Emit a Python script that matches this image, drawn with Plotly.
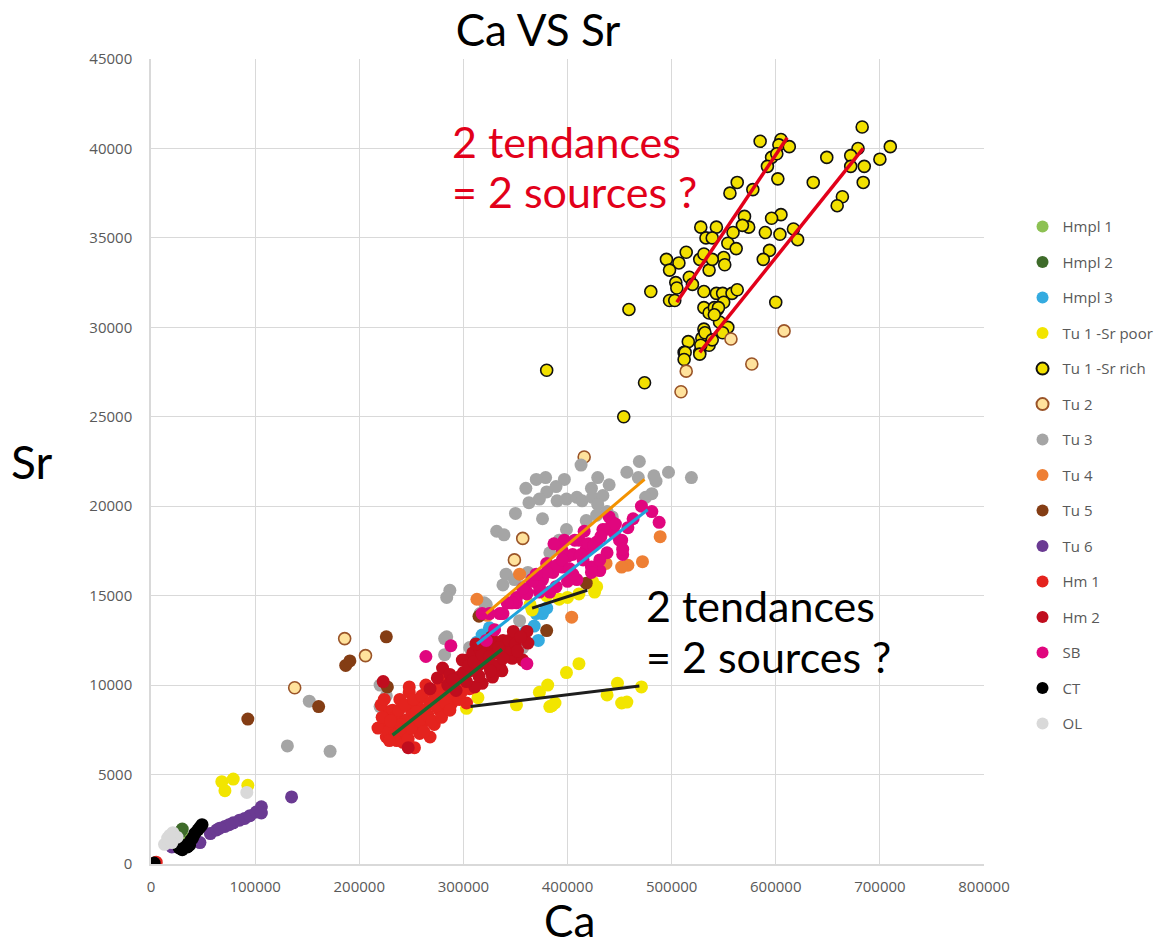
import plotly.graph_objects as go

# ---- measured points (Ca, Sr) per group ----
hmpl1 = [(31000, 1500)]
hmpl2 = [(30000, 1950), (28000, 1800)]
hmpl3 = [(376000, 14000), (368000, 13300), (313000, 12400), (318000, 12800), (370000, 14000),
         (380000, 14300), (360000, 13000), (372000, 12500), (325000, 13200)]
tu1_poor = [(303000, 8700), (314000, 9300), (351000, 8900), (373000, 9600), (381000, 10000),
            (383000, 8800), (388000, 9000), (399000, 10700), (411000, 11200), (448000, 10100),
            (438000, 9450), (452000, 9000), (457000, 9050), (471000, 9900), (364000, 14500),
            (380000, 15000), (392000, 14800), (400000, 14900), (411000, 15100), (424000, 15800),
            (426000, 15200), (428000, 15500), (366000, 14200), (68000, 4600), (79000, 4750),
            (71000, 4100), (93000, 4400), (385000, 8850)]
tu1_rich = [(585000, 40400), (605000, 40500), (603000, 40200), (613000, 40100), (596000, 39500),
            (601000, 39700), (592000, 39000), (602000, 38300), (578000, 37700), (563000, 38100),
            (556000, 37500), (683000, 41200), (679000, 40000), (672000, 39600), (649000, 39500),
            (710000, 40100), (700000, 39400), (685000, 39000), (672000, 39000), (684000, 38100),
            (636000, 38100), (664000, 37300), (659000, 36800), (605000, 36300), (596000, 36100),
            (570000, 36200), (574000, 35600), (568000, 35700), (590000, 35300), (604000, 35200),
            (617000, 35500), (621000, 34900), (594000, 34300), (588000, 33800), (528000, 35600),
            (543000, 35600), (533000, 35000), (539000, 35000), (559000, 35300), (554000, 34700),
            (562000, 34400), (550000, 33900), (551000, 33500), (514000, 34200), (495000, 33800),
            (507000, 33600), (498000, 33200), (504000, 32500), (517000, 32800), (527000, 33800),
            (531000, 34100), (536000, 33200), (539000, 33800), (520000, 32400), (505000, 32200),
            (480000, 32000), (498000, 31500), (503000, 31500), (459000, 31000), (531000, 32000),
            (543000, 31900), (549000, 31900), (558000, 31900), (563000, 32100), (550000, 31400),
            (531000, 31100), (544000, 31000), (536000, 30800), (546000, 30300), (554000, 30000),
            (600000, 31400), (531000, 29900), (529000, 29400), (516000, 29200), (536000, 29000),
            (512000, 28600), (527000, 28600), (541000, 31100), (545000, 31100), (541000, 30700),
            (549000, 29700), (532000, 29700), (539000, 29300), (528000, 29000), (513000, 28600),
            (527000, 28500), (512000, 28200), (380000, 27600), (474000, 26900), (454000, 25000)]
tu2 = [(138000, 9850), (186000, 12600), (206000, 11650), (349000, 17000), (357000, 18200),
       (416000, 22750), (509000, 26400), (514000, 27550), (557000, 29350), (577000, 27950),
       (608000, 29800)]
tu3 = [(469000, 22500), (413000, 22300), (497000, 21900), (483000, 21700), (457000, 21900),
       (468000, 21600), (485000, 21400), (429000, 21600), (440000, 21200), (423000, 21000),
       (397000, 21500), (389000, 21100), (379000, 21600), (370000, 21500), (360000, 21000),
       (380000, 20800), (373000, 20400), (363000, 20200), (390000, 20300), (399000, 20400),
       (409000, 20500), (414000, 20300), (424000, 20500), (434000, 20600), (429000, 20100),
       (438000, 19700), (418000, 19200), (428000, 19500), (443000, 19400), (481000, 20700),
       (475000, 20500), (350000, 19600), (376000, 19300), (332000, 18600), (339000, 18400),
       (399000, 18700), (392000, 18100), (383000, 17400), (362000, 16300), (341000, 16200),
       (338000, 15600), (287000, 15300), (284000, 14900), (322000, 14500), (349000, 15900),
       (357000, 15500), (284000, 12700), (519000, 21600), (316000, 14000), (320000, 14600),
       (347000, 12600), (357000, 12100), (282000, 12600), (306000, 12100), (282000, 11700),
       (220000, 10000), (226000, 9400), (220000, 8800), (354000, 13600), (131000, 6600),
       (172000, 6300), (152000, 9100)]
tu4 = [(489000, 18300), (472000, 16900), (458000, 16700), (452000, 16600), (354000, 16200),
       (313000, 14800), (404000, 13800), (323000, 13900), (437000, 16800)]
tu5 = [(93000, 8100), (161000, 8800), (187000, 11100), (191000, 11350), (226000, 12700),
       (227000, 9900), (315000, 13850), (380000, 13050), (418000, 15700)]
tu6 = [(20000, 950), (25000, 1050), (47000, 1200), (57000, 1700), (63000, 1900), (71000, 2100),
       (79000, 2300), (85000, 2450), (90000, 2550), (95000, 2700), (101000, 2900), (106000, 3200),
       (106000, 2850), (135000, 3750), (75000, 2200), (66000, 2000)]
hm1 = [(227000, 8500), (224000, 7900), (226000, 7100), (236000, 6900), (242000, 6800),
       (221000, 8900), (232000, 8600), (236000, 8300), (245000, 8050), (248000, 9600),
       (256000, 9050), (265000, 9700), (263000, 8600), (272000, 7800), (268000, 7100),
       (258000, 7300), (245000, 7300), (253000, 6500), (272000, 9200), (277000, 8600),
       (280000, 9600), (290000, 9300), (289000, 9000), (303000, 9000), (296000, 9200),
       (277000, 9900), (282000, 10300), (224000, 9200), (239000, 9200), (248000, 9900),
       (232000, 7600), (250000, 8600), (260000, 7800), (5000, 100), (240000, 7800), (254000, 8200),
       (218000, 7600), (222000, 8200), (228000, 7400), (230000, 8000), (234000, 7200),
       (238000, 8600), (241000, 7500), (244000, 8900), (247000, 7000), (250000, 7600),
       (252000, 9200), (255000, 8500), (258000, 8000), (260000, 9400), (262000, 7400),
       (266000, 8300), (268000, 9000), (270000, 8000), (274000, 8800), (276000, 9500),
       (279000, 8200), (283000, 9000), (286000, 9800), (292000, 9900), (298000, 9600),
       (300000, 10100), (306000, 9800), (229000, 6900), (264000, 10000), (287000, 8600)]
hm2 = [(223000, 10200), (247000, 6500), (275000, 10400), (280000, 10950), (287000, 10600),
       (303000, 11400), (309000, 11800), (316000, 12000), (322000, 12100), (330000, 12350),
       (338000, 12500), (342000, 11800), (347000, 11500), (335000, 11000), (328000, 10450),
       (318000, 10100), (311000, 9900), (303000, 10200), (293000, 9700), (296000, 10450),
       (313000, 11000), (322000, 11200), (332000, 11800), (340000, 12200), (361000, 13000),
       (362000, 12350), (357000, 11400), (299000, 11400), (268000, 9800), (285000, 10000),
       (327000, 12700), (345000, 12000), (337000, 10800), (320000, 11500), (306000, 10800),
       (300000, 10700), (305000, 11100), (310000, 11300), (315000, 10500), (318000, 11700),
       (325000, 11600), (330000, 11100), (334000, 12100), (338000, 11500), (344000, 12500),
       (350000, 12300), (352000, 11900), (326000, 10800), (290000, 10300), (312000, 12300),
       (348000, 13000), (355000, 12700)]
sb = [(471000, 20000), (481000, 19700), (488000, 19100), (440000, 19400), (443000, 19100),
      (434000, 18700), (452000, 18100), (453000, 17300), (438000, 17400), (431000, 16400),
      (423000, 16600), (411000, 18100), (418000, 17600), (405000, 17300), (397000, 18100),
      (395000, 16600), (386000, 16300), (380000, 16800), (376000, 15900), (366000, 15900),
      (361000, 15200), (351000, 14900), (346000, 14600), (335000, 14000), (325000, 14000),
      (373000, 15200), (409000, 15900), (400000, 15800), (389000, 15500), (383000, 15200),
      (423000, 16300), (450000, 18100), (453000, 17600), (437000, 18700), (431000, 17000),
      (407000, 18100), (400000, 17200), (405000, 16200), (390000, 16700), (380000, 16300),
      (373000, 15500), (366000, 15800), (361000, 15100), (351000, 14600), (338000, 14000),
      (330000, 13100), (322000, 12500), (318000, 14000), (288000, 12200), (264000, 11600),
      (361000, 11200), (347000, 14600), (420000, 17900), (415000, 17000), (428000, 18000),
      (445000, 18500), (395000, 17500), (395000, 17000), (402000, 16500), (413000, 17300),
      (425000, 17800), (432000, 18300), (446000, 19000), (458000, 18800), (463000, 19300),
      (370000, 16200), (357000, 15400), (342000, 14600), (387000, 17900), (416000, 18600)]
ct = [(3000, 50), (30000, 800), (33000, 1050), (37000, 1050), (40000, 1450), (42000, 1700),
      (45000, 1900), (49000, 2200), (38000, 1300), (35000, 950), (47000, 2050), (27000, 900)]
ol = [(13000, 1100), (16000, 1450), (21000, 1750), (25000, 1500), (20000, 1200), (18000, 1600),
      (92000, 4000)]

# ---- hand-drawn trend lines: (Ca start, Sr start, Ca end, Sr end) ----
trend_rich_a = (505000, 31400, 611000, 40600)
trend_rich_b = (527000, 28600, 684000, 40000)
trend_orange = (322000, 14000, 474000, 21500)
trend_blue = (313000, 12300, 477000, 19800)
trend_green = (232000, 7200, 337000, 12000)
trend_black_short = (366000, 14300, 419000, 15300)
trend_black_long = (307000, 8800, 469000, 9950)

series = [
    ("Hmpl 1", hmpl1, "#8DC153", None),
    ("Hmpl 2", hmpl2, "#3E6B2A", None),
    ("Hmpl 3", hmpl3, "#34ABE0", None),
    ("Tu 1 -Sr poor", tu1_poor, "#F2E500", None),
    ("Tu 1 -Sr rich", tu1_rich, "#F2E000", "#111111"),
    ("Tu 2", tu2, "#FFE29C", "#9A5428"),
    ("Tu 3", tu3, "#A5A5A5", None),
    ("Tu 4", tu4, "#EE7F34", None),
    ("Tu 5", tu5, "#843D14", None),
    ("Tu 6", tu6, "#6A3A92", None),
    ("Hm 1", hm1, "#E4231E", None),
    ("Hm 2", hm2, "#C00D1E", None),
    ("SB", sb, "#E0067E", None),
    ("CT", ct, "#000000", None),
    ("OL", ol, "#D9D9D9", None),
]

fig = go.Figure()
for i, (name, pts, fill, edge) in enumerate(series):
    xs = [p[0] for p in pts]
    ys = [p[1] for p in pts]
    marker = dict(color=fill, size=13)
    if edge:
        marker.update(size=12, line=dict(color=edge, width=1.6))
    else:
        marker.update(line=dict(width=0))
    fig.add_trace(go.Scatter(x=xs, y=ys, mode="markers", name=name, marker=marker,
                             legendgroup=f"g{i}"))

for seg, col, w in [(trend_rich_a, "#E2001A", 3.5), (trend_rich_b, "#E2001A", 3.5),
                    (trend_orange, "#F39200", 3), (trend_blue, "#1FA3DC", 3),
                    (trend_green, "#17692E", 3.5), (trend_black_short, "#1E1E1E", 3),
                    (trend_black_long, "#1E1E1E", 3)]:
    fig.add_trace(go.Scatter(x=[seg[0], seg[2]], y=[seg[1], seg[3]], mode="lines",
                             line=dict(color=col, width=w), showlegend=False,
                             hoverinfo="skip"))

font_big = "Lato, Carlito, Calibri, sans-serif"
font_small = "'Open Sans', 'Segoe UI', sans-serif"
grid = "#D9D9D9"

fig.update_layout(
    width=1170, height=947,
    margin=dict(l=151, r=185, t=59, b=83),
    paper_bgcolor="white", plot_bgcolor="white",
    font=dict(family=font_small, color="#595959", size=15),
    showlegend=True,
    legend=dict(x=1.045, y=0.812, xanchor="left", yanchor="top",
                font=dict(size=15, color="#595959", family=font_small), tracegroupgap=13,
                itemsizing="constant", bgcolor="rgba(0,0,0,0)"),
    title=dict(text="Ca VS Sr", x=538 / 1170, xanchor="center",
               y=1 - 31 / 947, yanchor="middle",
               font=dict(size=44, color="#000000", family=font_big)),
)
fig.update_xaxes(range=[0, 800000], dtick=100000, tick0=0, tickformat="d",
                 showgrid=True, gridcolor=grid, gridwidth=1,
                 showline=True, linecolor=grid, linewidth=1.5, zeroline=False,
                 ticks="", ticklabelstandoff=8, tickfont=dict(size=15, color="#595959"))
fig.update_yaxes(range=[0, 45000], dtick=5000, tick0=0, tickformat="d",
                 showgrid=True, gridcolor=grid, gridwidth=1,
                 showline=True, linecolor=grid, linewidth=1.5, zeroline=False,
                 ticks="", ticklabelstandoff=14, tickfont=dict(size=15, color="#595959"))

# axis titles (Sr written horizontally)
fig.add_annotation(text="Sr", xref="paper", yref="paper", x=(31 - 151) / 834, y=0.5,
                   showarrow=False, font=dict(size=46, color="#000000", family=font_big),
                   xanchor="center", yanchor="middle")
fig.add_annotation(text="Ca", xref="paper", yref="paper", x=(570 - 151) / 834,
                   y=(864 - 920) / 805,
                   showarrow=False, font=dict(size=44, color="#000000", family=font_big),
                   xanchor="center", yanchor="middle")

# commentary on the two trends
notes = [
    ("2 tendances", 450, 141, "#E2001A"),
    ("= 2 sources ?", 450, 191, "#E2001A"),
    ("2 tendances", 645, 605, "#000000"),
    ("= 2 sources ?", 645, 656, "#000000"),
]
for txt, px, py, col in notes:
    fig.add_annotation(text=txt, xref="paper", yref="paper",
                       x=(px - 151) / 834, y=(864 - py) / 805, showarrow=False,
                       xanchor="left", yanchor="middle",
                       font=dict(size=43, color=col, family=font_big))

fig.write_html("out.html")
